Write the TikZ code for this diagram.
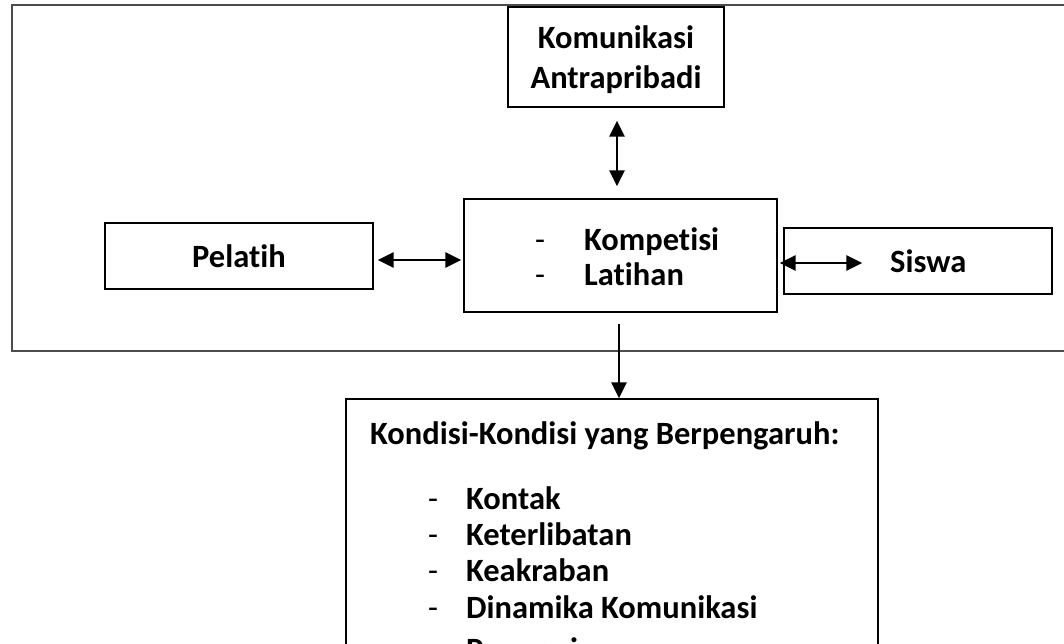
\documentclass[tikz,border=0pt]{standalone}
\usepackage{fontspec}
\setmainfont{Carlito}[Ligatures=NoCommon]
\usetikzlibrary{arrows.meta}
\begin{document}
\begin{tikzpicture}[x=1pt,y=-1pt,
  box/.style={draw=black, line width=1.3pt, inner sep=0pt},
  dbl/.style={{Triangle[length=16pt,width=15pt]}-{Triangle[length=16pt,width=15pt]}, line width=2.4pt},
  one/.style={-{Triangle[length=16pt,width=15pt]}, line width=2.4pt},
  txt/.style={font=\fontsize{32.5}{40}\selectfont\bfseries, inner sep=0pt},
  dsh/.style={font=\fontsize{32.5}{40}\selectfont, inner sep=0pt}]
\useasboundingbox (0,0) rectangle (1064,644);
% outer frame (open to the right)
\draw[line width=2pt, draw=black!70] (1090,5) -- (12,5) -- (12,351) -- (1090,351);
% boxes
\node[box, minimum width=216pt, minimum height=100pt, align=center, txt, text depth=0pt] (ka) at (616,57) {Komunikasi\\Antrapribadi};
\node[box, minimum width=313pt, minimum height=113pt] (kl) at (620.5,255.5) {};
\node[box, minimum width=268pt, minimum height=66pt, txt] (pel) at (239,256) {Pelatih};
\node[box, minimum width=268pt, minimum height=66pt] (sw) at (918,261) {};
\node[box, minimum width=532pt, minimum height=301pt] (kond) at (612,549.5) {};
% texts
\node[dsh, anchor=base west] (d1) at (535,251) {-};
\node[txt, anchor=base west] (k1) at (584,251) {Kompetisi};
\node[dsh, anchor=base west] (d2) at (535,285) {-};
\node[txt, anchor=base west] (k2) at (584,285) {Latihan};
\node[txt, anchor=base west] (swt) at (890,272) {Siswa};
\node[txt, anchor=base west] (kt) at (370,444) {Kondisi-Kondisi yang Berpengaruh:};
\node[dsh, anchor=base west] (e1) at (428,509) {-};
\node[txt, anchor=base west] (i1) at (466,509) {Kontak};
\node[dsh, anchor=base west] (e2) at (428,545) {-};
\node[txt, anchor=base west] (i2) at (466,545) {Keterlibatan};
\node[dsh, anchor=base west] (e3) at (428,581) {-};
\node[txt, anchor=base west] (i3) at (466,581) {Keakraban};
\node[dsh, anchor=base west] (e4) at (428,618) {-};
\node[txt, anchor=base west] (i4) at (466,618) {Dinamika Komunikasi};
\node[dsh, anchor=base west] (e5) at (428,660) {-};
\node[txt, anchor=base west] (i5) at (466,660) {Persepsi};
% connectors
\draw[dbl, shorten <=13pt, shorten >=12pt] ([xshift=1pt]ka.south) -- ([xshift=1pt]ka.south |- kl.north);
\draw[dbl, shorten <=4pt, shorten >=2pt] ([yshift=-4pt]pel.east) -- ([yshift=-4pt]pel.east -| kl.west);
\draw[dbl] ([xshift=2pt,yshift=-2pt]kl.east |- sw.west) -- ([xshift=79pt,yshift=-2pt]sw.west);
\draw[one, shorten <=11pt] ([xshift=-1.5pt]kl.south) -- ([xshift=-1.5pt]kl.south |- kond.north);
\end{tikzpicture}
\end{document}
